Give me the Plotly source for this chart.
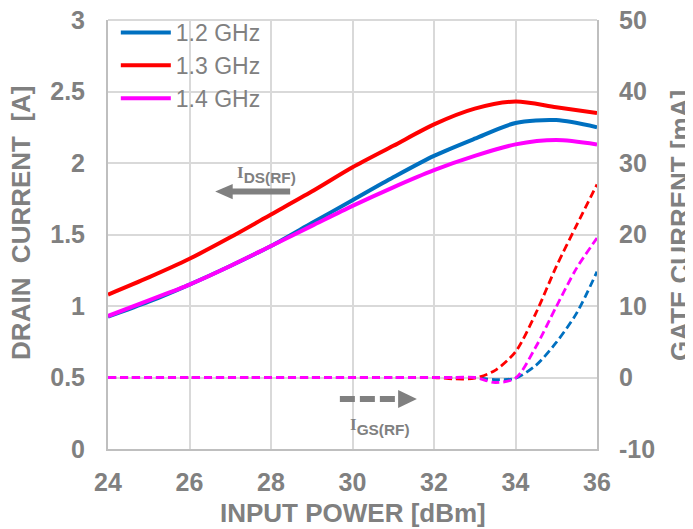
import plotly.graph_objects as go

# ---- data ----
pin_drain = [24, 25, 26, 27, 28, 29, 30, 31, 32, 33, 34, 35, 36]
ids_12 = [0.925, 1.03, 1.15, 1.28, 1.42, 1.58, 1.74, 1.90, 2.05, 2.17, 2.28, 2.30, 2.25]
ids_13 = [1.08, 1.20, 1.33, 1.48, 1.64, 1.80, 1.97, 2.12, 2.27, 2.38, 2.43, 2.39, 2.35]
ids_14 = [0.93, 1.04, 1.15, 1.28, 1.42, 1.56, 1.70, 1.83, 1.95, 2.05, 2.13, 2.16, 2.13]

pin_gate = [24, 24.5, 25, 25.5, 26, 26.5, 27, 27.5, 28, 28.5, 29, 29.5, 30, 30.5,
            31, 31.5, 32, 32.5, 33, 33.5, 34, 34.5, 35, 35.5, 36]
igs_12 = [0, 0, 0, 0, 0, 0, 0, 0, 0, 0, 0, 0, 0, 0, 0, 0, 0, 0, 0,
          -0.3, -0.1, 1.7, 4.9, 9.0, 14.8]
igs_13 = [0, 0, 0, 0, 0, 0, 0, 0, 0, 0, 0, 0, 0, 0, 0, 0, 0, -0.2, -0.1,
          1.0, 3.6, 9.0, 15.5, 21.3, 27.0]
igs_14 = [0, 0, 0, 0, 0, 0, 0, 0, 0, 0, 0, 0, 0, 0, 0, 0, 0, 0, 0,
          -0.7, -0.1, 4.3, 9.9, 15.3, 19.5]

names = ["1.2 GHz", "1.3 GHz", "1.4 GHz"]
colors = ["#0070C0", "#FF0000", "#FF00FF"]

x_ticks = [24, 26, 28, 30, 32, 34, 36]
y_ticks = [0, 0.5, 1, 1.5, 2, 2.5, 3]
y2_ticks = [-10, 0, 10, 20, 30, 40, 50]

GRAY = "#808080"
FONT = "Liberation Sans"

fig = go.Figure()

for ids, name, c in zip([ids_12, ids_13, ids_14], names, colors):
    fig.add_trace(go.Scatter(x=pin_drain, y=ids, name=name, mode="lines",
                             line=dict(color=c, width=4, shape="spline", smoothing=0.8)))

for igs, c in zip([igs_12, igs_13, igs_14], colors):
    fig.add_trace(go.Scatter(x=pin_gate, y=igs, yaxis="y2", mode="lines", showlegend=False,
                             line=dict(color=c, width=2.8, dash="8px,4px",
                                       shape="spline", smoothing=0.8)))

# top border gridline (plot area frame)
fig.add_shape(type="line", xref="paper", yref="paper", x0=0, x1=1, y0=1, y1=1,
              line=dict(color="#d9d9d9", width=2), layer="between")

# arrows (decorations)
fig.add_shape(type="line", x0=28.47, x1=27.0, y0=1.80, y1=1.80, xref="x", yref="y",
              line=dict(color=GRAY, width=6))
fig.add_shape(type="path", xref="x", yref="y",
              path="M 26.63 1.80 L 27.06 1.853 L 27.06 1.747 Z",
              fillcolor=GRAY, line=dict(color=GRAY, width=0))
fig.add_shape(type="line", x0=29.69, x1=31.15, y0=0.35, y1=0.35, xref="x", yref="y",
              line=dict(color=GRAY, width=6, dash="15px,5px"))
fig.add_shape(type="path", xref="x", yref="y",
              path="M 31.58 0.35 L 31.12 0.413 L 31.12 0.287 Z",
              fillcolor=GRAY, line=dict(color=GRAY, width=0))

lbl_font = dict(family=FONT, size=22, color=GRAY)
fig.add_annotation(x=27.88, y=1.92, xref="x", yref="y", showarrow=False,
                   text="<b><span style='font-family:Liberation Serif;font-size:17px'>I</span><sub>DS(RF)</sub></b>",
                   font=lbl_font)
fig.add_annotation(x=30.67, y=0.155, xref="x", yref="y", showarrow=False,
                   text="<b><span style='font-family:Liberation Serif;font-size:17px'>I</span><sub>GS(RF)</sub></b>",
                   font=lbl_font)

title_font = dict(family=FONT, size=26, color=GRAY)
fig.add_annotation(x=0.5, y=0, xref="paper", yref="paper", yanchor="middle",
                   yshift=-64, showarrow=False, text="<b>INPUT POWER [dBm]</b>", font=title_font)
fig.add_annotation(x=0, y=0.527, xref="paper", yref="paper", xanchor="center", yanchor="middle",
                   xshift=-87, showarrow=False, textangle=-90,
                   text="<b>DRAIN\u00a0 CURRENT\u00a0 [A]</b>", font=title_font)
fig.add_annotation(x=1, y=0.52, xref="paper", yref="paper", xanchor="center", yanchor="middle",
                   xshift=83, showarrow=False, textangle=-90,
                   text="<b>GATE CURRENT [mA]</b>", font=title_font)

tick_font = dict(family=FONT, size=25, color=GRAY, weight="bold")

fig.update_layout(
    width=685, height=521,
    margin=dict(l=100, r=96, t=12, b=80, autoexpand=False),
    paper_bgcolor="white", plot_bgcolor="white",
    showlegend=True,
    legend=dict(x=0.016, y=1.021, xanchor="left", yanchor="top",
                font=dict(family=FONT, size=23, color=GRAY), itemwidth=50,
                bgcolor="rgba(0,0,0,0)", tracegroupgap=0),
    xaxis=dict(range=[24, 36], tickvals=x_ticks, ticktext=[str(v) for v in x_ticks],
               showgrid=True, gridcolor="#d9d9d9", gridwidth=2,
               showline=True, linecolor="#bfbfbf", linewidth=2, automargin=False,
               ticks="", tickfont=tick_font, ticklabelstandoff=10, zeroline=False,
               ticklabeloverflow="allow"),
    yaxis=dict(range=[0, 3], tickvals=y_ticks, ticktext=["0", "0.5", "1", "1.5", "2", "2.5", "3"],
               showgrid=True, gridcolor="#d9d9d9", gridwidth=2,
               showline=True, linecolor="#bfbfbf", linewidth=2, automargin=False,
               ticks="", tickfont=tick_font, ticklabelstandoff=16, zeroline=False,
               ticklabeloverflow="allow"),
    yaxis2=dict(range=[-10, 50], tickvals=y2_ticks, ticktext=[str(v) for v in y2_ticks],
                overlaying="y", side="right", showgrid=False,
                showline=True, linecolor="#bfbfbf", linewidth=2, automargin=False,
                ticks="", tickfont=tick_font, ticklabelstandoff=15, zeroline=False,
                ticklabeloverflow="allow"),
)

fig.write_html("out.html")
